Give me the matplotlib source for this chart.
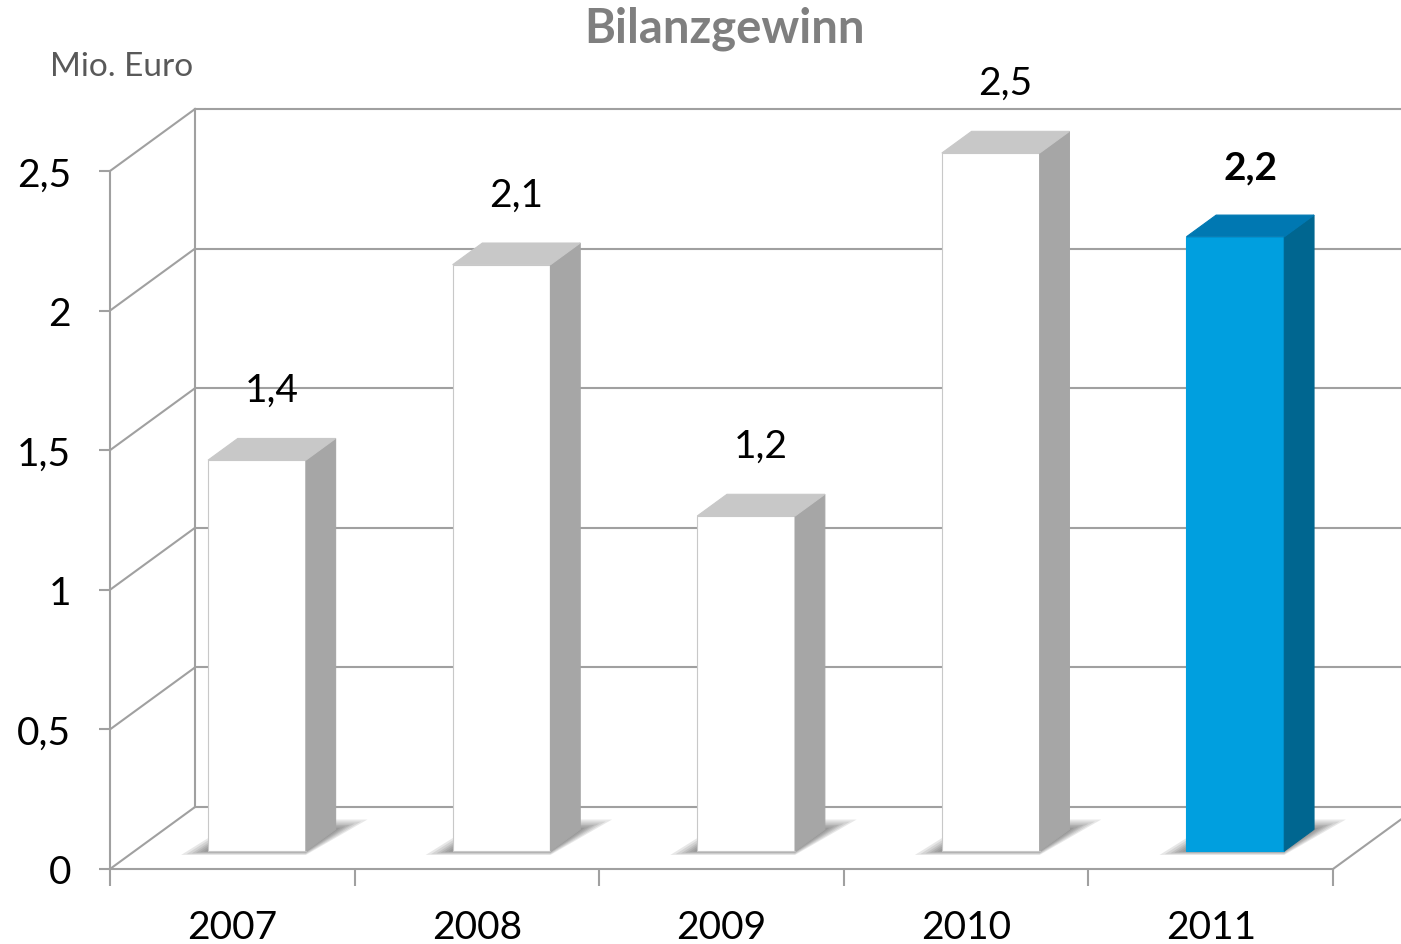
import matplotlib.pyplot as plt
from matplotlib.patches import Polygon

plt.rcParams['font.family'] = ['Lato', 'DejaVu Sans']

years = ["2007", "2008", "2009", "2010", "2011"]
values = [1.4, 2.1, 1.2, 2.5, 2.2]
value_labels = ["1,4", "2,1", "1,2", "2,5", "2,2"]
y_ticks = [0, 0.5, 1, 1.5, 2, 2.5]
y_tick_labels = ["0", "0,5", "1", "1,5", "2", "2,5"]

GRID = "#a0a0a0"
# fake 3D: full depth offset in data units
DX, DY = 0.3475, 0.222
F0, F1 = 0.29, 0.64     # bar sits between these depth fractions
BAR_W = 0.4


def face(ax, pts, color, edge=None, z=3):
    ax.add_patch(Polygon(pts, closed=True, facecolor=color,
                         edgecolor=edge if edge else color, lw=0.8,
                         zorder=z, clip_on=False))


fig = plt.figure(figsize=(14.01, 9.45), dpi=100)
ax = fig.add_axes([110 / 1401, 75 / 945, 1223 / 1401, 698 / 945])
n = len(years)
ax.set_xlim(-0.5, n - 0.5)
ax.set_ylim(0, 2.5)

# back wall, side wall and floor
x_end = n - 0.5 + DX * 1.5
for t in y_ticks:
    ax.plot([-0.5, -0.5 + DX], [t, t + DY], color=GRID, lw=1.5, clip_on=False, zorder=1)
    ax.plot([-0.5 + DX, x_end], [t + DY, t + DY], color=GRID, lw=1.5, clip_on=False, zorder=1)
ax.plot([-0.5 + DX, -0.5 + DX], [DY, 2.5 + DY], color=GRID, lw=1.5, clip_on=False, zorder=1)
ax.plot([n - 0.5, n - 0.5 + DX], [0, DY], color=GRID, lw=1.5, clip_on=False, zorder=1)

for i, (v, lab) in enumerate(zip(values, value_labels)):
    last = i == n - 1
    front_c = "#009fdf" if last else "white"
    top_c = "#0078b2" if last else "#c8c8c8"
    side_c = "#006690" if last else "#a6a6a6"
    b = F0 * DY
    x0 = i - BAR_W / 2 + F0 * DX
    d = F1 - F0
    ddx, ddy = d * DX, d * DY
    # soft floor shadow, nested layers -> darker near the bar
    for k in [1.0, 0.8, 0.6, 0.45, 0.3, 0.15]:
        face(ax, [(x0 - 0.11 * k, b - 0.014 * k), (x0 + BAR_W, b - 0.014 * k),
                  (x0 + BAR_W + ddx + 0.13 * k, b + ddy + 0.035 * k),
                  (x0 + ddx, b + ddy + 0.035 * k)],
             (0.3, 0.3, 0.3, 0.13), edge="none", z=2)
    face(ax, [(x0, b), (x0 + BAR_W, b), (x0 + BAR_W, b + v), (x0, b + v)],
         front_c, edge="#c8c8c8" if not last else front_c)
    face(ax, [(x0 + BAR_W, b), (x0 + BAR_W + ddx, b + ddy),
              (x0 + BAR_W + ddx, b + ddy + v), (x0 + BAR_W, b + v)], side_c)
    face(ax, [(x0, b + v), (x0 + BAR_W, b + v),
              (x0 + BAR_W + ddx, b + v + ddy), (x0 + ddx, b + v + ddy)], top_c)
    ax.text(x0 + (BAR_W + ddx) / 2, v + 0.315, lab, ha="center", va="center",
            fontsize=28, fontweight="bold" if last else "normal", color="black")

# axes
for s in ["top", "right"]:
    ax.spines[s].set_visible(False)
for s in ["left", "bottom"]:
    ax.spines[s].set_color(GRID)
    ax.spines[s].set_linewidth(1.5)
ax.set_facecolor("none")
ax.set_yticks(y_ticks)
ax.set_yticklabels(y_tick_labels)
ax.tick_params(axis="y", length=8, width=1.5, color=GRID, pad=20, labelsize=28)
ax.set_xticks([i - 0.5 for i in range(n + 1)])
ax.set_xticklabels([])
ax.set_xticks(range(n), minor=True)
ax.set_xticklabels(years, minor=True)
ax.tick_params(axis="x", which="major", length=12, width=1.5, color=GRID)
ax.tick_params(axis="x", which="minor", length=0, pad=29, labelsize=28)

fig.text(725 / 1401, 1 - 29 / 945, "Bilanzgewinn", ha="center", va="center",
         fontsize=34, fontweight="bold", color="#7f7f7f")
fig.text(50 / 1401, 1 - 67 / 945, "Mio. Euro", ha="left", va="center",
         fontsize=24, color="#595959")

fig.savefig("out.png", dpi=100)
